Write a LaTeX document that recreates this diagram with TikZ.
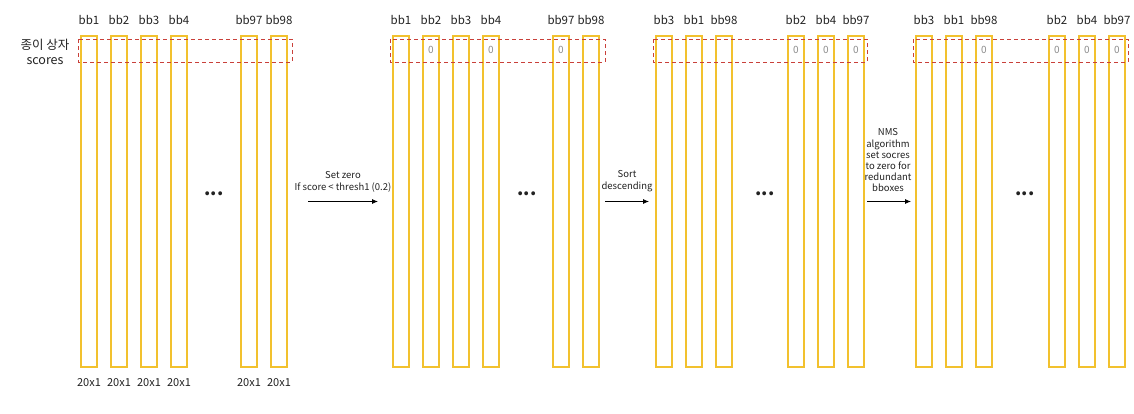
\documentclass[tikz,border=0pt]{standalone}
\usepackage{fontspec}
\setmainfont{Noto Sans CJK KR}
\usetikzlibrary{arrows.meta,positioning,calc}

\definecolor{baryellow}{HTML}{F2C12E}
\definecolor{boxred}{HTML}{C9403A}
\definecolor{inkgray}{HTML}{222222}
\definecolor{zerogray}{HTML}{8A8A8A}

\begin{document}
\begin{tikzpicture}[
  x=1pt, y=-1pt,
  font=\fontsize{11}{13}\selectfont, text=inkgray,
  bar/.style={rectangle, draw=baryellow, line width=1.8pt,
              minimum width=16pt, minimum height=331pt, inner sep=0pt},
  bblabel/.style={font=\fontsize{11.5}{13}\selectfont},
  sizelabel/.style={font=\fontsize{11}{12}\selectfont},
  zero/.style={font=\fontsize{10}{11}\selectfont, text=zerogray},
  scorebox/.style={draw=boxred, dash pattern=on 4pt off 3pt, line width=0.8pt},
  dots/.style={font=\fontsize{18}{20}\selectfont\bfseries},
  note/.style={align=center, font=\fontsize{9.5}{12}\selectfont},
  flow/.style={-{Latex[length=6pt,width=5pt]}, line width=0.8pt, draw=black}
]
\useasboundingbox (0,0) rectangle (1134,414);

% input scores
\foreach \n/\x/\lab in {1/89/bb1, 2/119/bb2, 3/149/bb3, 4/179/bb4, 5/249/bb97, 6/279/bb98} {
  \node[bar] (a\n) at (\x,201.5) {};
  \node[bblabel, above=7pt of a\n] {\lab};
  \node[sizelabel, below=7pt of a\n] {20x1};
}
\draw[scorebox] ($(a1.north west)+(-2,4)$) rectangle ($(a6.north east)+(4,27)$);
\node[align=center, font=\fontsize{12.5}{15}\selectfont] (side) at (45,52) {종이 상자\\scores};
\node[dots] (d1) at (214,194) {...};

% set zero
\coordinate (s1) at (308,201.5);
\coordinate (e1) at (378,201.5);
\coordinate (m1) at (343,201.5);
\draw[flow] (s1) -- (e1);
\node[note, above=6pt of m1] (t1) {Set zero\\If score < thresh1 (0.2)};

\foreach \n/\x/\lab in {1/401/bb1, 2/431/bb2, 3/461/bb3, 4/491/bb4, 5/561/bb97, 6/591/bb98} {
  \node[bar] (b\n) at (\x,201.5) {};
  \node[bblabel, above=7pt of b\n] {\lab};
}
\foreach \n in {2,4,5}
  \node[zero, below=8pt of b\n.north] {0};
\draw[scorebox] ($(b1.north west)+(-2,4)$) rectangle ($(b6.north east)+(5,27)$);
\node[dots] (d2) at (527,194) {...};

% sort
\coordinate (s2) at (605,201.5);
\coordinate (e2) at (649,201.5);
\coordinate (m2) at (627,201.5);
\draw[flow] (s2) -- (e2);
\node[note, above=6pt of m2] (t2) {Sort\\descending};

\foreach \n/\x/\lab in {1/664/bb3, 2/694/bb1, 3/724/bb98, 4/796/bb2, 5/826/bb4, 6/856/bb97} {
  \node[bar] (c\n) at (\x,201.5) {};
  \node[bblabel, above=7pt of c\n] {\lab};
}
\foreach \n in {4,5,6}
  \node[zero, below=8pt of c\n.north] {0};
\draw[scorebox] ($(c1.north west)+(-2,4)$) rectangle ($(c6.north east)+(2,27)$);
\node[dots] (d3) at (765,194) {...};

% nms
\coordinate (s3) at (867,201.5);
\coordinate (e3) at (911,201.5);
\coordinate (m3) at (888,201.5);
\draw[flow] (s3) -- (e3);
\node[note, above=6pt of m3, font=\fontsize{9.5}{11.2}\selectfont] (t3)
  {NMS\\algorithm\\set socres\\to zero for\\redundant\\bboxes};

\foreach \n/\x/\lab in {1/924/bb3, 2/954/bb1, 3/984/bb98, 4/1057/bb2, 5/1087/bb4, 6/1117/bb97} {
  \node[bar] (f\n) at (\x,201.5) {};
  \node[bblabel, above=7pt of f\n] {\lab};
}
\foreach \n in {3,4,5,6}
  \node[zero, below=8pt of f\n.north] {0};
\draw[scorebox] ($(f1.north west)+(-2,4)$) rectangle ($(f6.north east)+(2,27)$);
\node[dots] (d4) at (1025,194) {...};
\end{tikzpicture}
\end{document}
